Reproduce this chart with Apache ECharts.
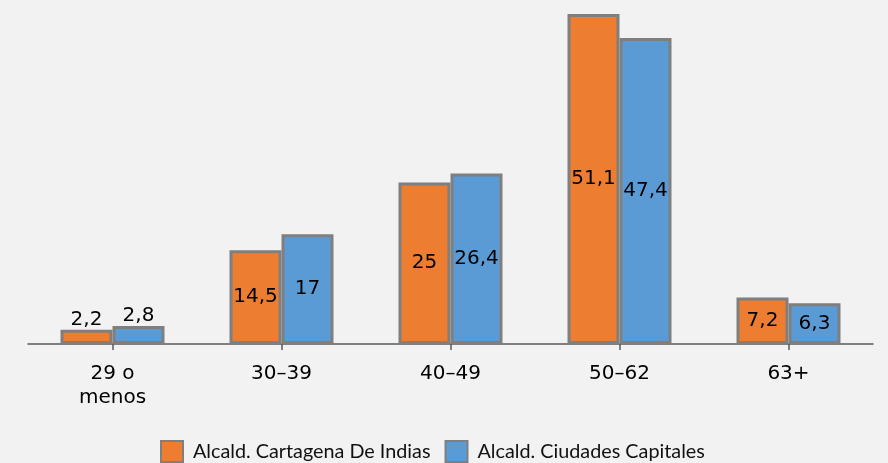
<!DOCTYPE html>
<html><head><meta charset="utf-8">
<script src="https://cdn.jsdelivr.net/npm/echarts@6/dist/echarts.min.js"></script>
<style>html,body{margin:0;padding:0;background:#f2f2f2;}#c{width:888px;height:463px;}</style>
</head><body><div id="c"></div>
<script>
var categories = ['29 o\nmenos', '30–39', '40–49', '50–62', '63+'];
var seriesNames = ['Alcald. Cartagena De Indias', 'Alcald. Ciudades Capitales'];
var cartagena = [2.2, 14.5, 25, 51.1, 7.2];
var capitales = [2.8, 17, 26.4, 47.4, 6.3];
var colors = ['#ed7d31', '#5b9bd5'];

function mk(vals) {
  return vals.map(function (v) {
    return { value: v, label: { position: v < 5 ? 'top' : 'inside', distance: 0 } };
  });
}
function fmt(p) { return String(p.value).replace('.', ','); }

var chart = echarts.init(document.getElementById('c'));
var lbl = { show: true, formatter: fmt, fontFamily: "'DejaVu Sans'", fontSize: 20, color: '#000' };
chart.setOption({
  backgroundColor: '#f2f2f2',
  animation: false,
  grid: { left: 28, right: 15, top: 14, bottom: 119, containLabel: false },
  legend: {
    top: 440, left: 160, padding: 0, itemWidth: 22, itemHeight: 21, itemGap: 14, icon: 'rect',
    textStyle: { fontFamily: 'Lato', fontSize: 19.8, color: '#111', padding: [0, 0, 0, 5] }
  },
  xAxis: {
    type: 'category', data: categories,
    axisLine: { lineStyle: { color: '#595959', width: 1.5 } },
    axisTick: { show: true, alignWithLabel: true, length: 6, lineStyle: { color: '#595959', width: 1.5 } },
    axisLabel: { fontFamily: "'DejaVu Sans'", fontSize: 20, color: '#000', margin: 18, lineHeight: 24, interval: 0 }
  },
  yAxis: { type: 'value', min: 0, max: 51.1, show: false, splitLine: { show: false } },
  series: [
    { name: seriesNames[0], type: 'bar', data: mk(cartagena), barWidth: 52, barGap: '0%',
      itemStyle: { color: colors[0], borderColor: '#7f7f7f', borderWidth: 3 }, label: lbl },
    { name: seriesNames[1], type: 'bar', data: mk(capitales), barWidth: 52,
      itemStyle: { color: colors[1], borderColor: '#7f7f7f', borderWidth: 3 }, label: lbl }
  ]
});
</script></body></html>
